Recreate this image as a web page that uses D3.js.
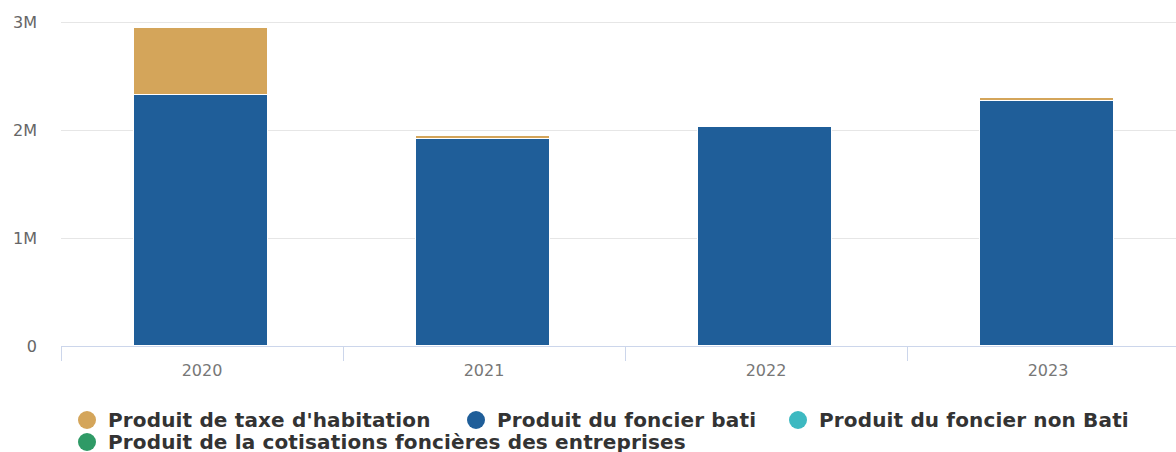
<!DOCTYPE html>
<html>
<head>
<meta charset="utf-8">
<script src="https://cdn.jsdelivr.net/npm/d3@7"></script>
<style>
  html, body { margin: 0; padding: 0; background: #fff; }
  svg { display: block; }
</style>
</head>
<body>
<svg id="chart" width="1176" height="452"></svg>
<script>
// Yearly tax product breakdown (euros)
const years = ["2020", "2021", "2022", "2023"];
const taxeHabitation = [620000, 25000, 0, 25000];
const foncierBati = [2320000, 1915000, 2030000, 2272000];
const foncierNonBati = [0, 0, 0, 0];
const cotisationsEntreprises = [0, 0, 0, 0];
const yTicks = [0, 1000000, 2000000, 3000000];
const yTickLabels = ["0", "1M", "2M", "3M"];

const seriesNames = [
  "Produit de taxe d'habitation",
  "Produit du foncier bati",
  "Produit du foncier non Bati",
  "Produit de la cotisations foncières des entreprises"
];
const seriesColors = ["#d4a55a", "#1f5e99", "#3db9c1", "#2f9a66"];
const seriesValues = [taxeHabitation, foncierBati, foncierNonBati, cotisationsEntreprises];

const svg = d3.select("#chart");
const plot = { left: 61, right: 1189, top: 22, bottom: 346 };

const x = d3.scaleBand()
  .domain(years)
  .range([plot.left, plot.right])
  .paddingInner(0.525)
  .paddingOuter(0.2625);

const y = d3.scaleLinear()
  .domain([0, 3000000])
  .range([plot.bottom, plot.top]);

// Grid lines
svg.append("g")
  .selectAll("line")
  .data(yTicks.slice(1))
  .join("line")
  .attr("x1", plot.left)
  .attr("x2", 1176)
  .attr("y1", d => Math.round(y(d)) + 0.5)
  .attr("y2", d => Math.round(y(d)) + 0.5)
  .attr("stroke", "#e6e6e6")
  .attr("stroke-width", 1);

// Y axis labels
svg.append("g")
  .selectAll("text")
  .data(yTicks)
  .join("text")
  .attr("x", 37)
  .attr("y", d => y(d) + 6)
  .attr("text-anchor", "end")
  .attr("fill", "#666")
  .attr("font-family", "DejaVu Sans, sans-serif")
  .attr("font-size", 16)
  .text((d, i) => yTickLabels[i]);

// Stacked bars: first series sits on top of the stack
const stackOrder = [3, 2, 1, 0];
const stacked = years.map((yr, i) => {
  let base = 0;
  const segs = [];
  stackOrder.forEach(s => {
    const v = seriesValues[s][i];
    segs.push({ year: yr, series: s, y0: base, y1: base + v });
    base += v;
  });
  return segs;
}).flat().filter(d => d.y1 > d.y0);

svg.append("g")
  .selectAll("rect")
  .data(stacked)
  .join("rect")
  .attr("x", d => Math.round(x(d.year)) - 1.5)
  .attr("width", Math.round(x.bandwidth()))
  .attr("y", d => Math.round(y(d.y1)) - 0.5)
  .attr("height", d => Math.max(1, Math.round(y(d.y0)) - Math.round(y(d.y1))))
  .attr("fill", d => seriesColors[d.series])
  .attr("stroke", "#fff")
  .attr("stroke-width", 1);

// X axis line and ticks
const xAxis = svg.append("g");
xAxis.append("line")
  .attr("x1", plot.left)
  .attr("x2", 1176)
  .attr("y1", plot.bottom + 0.5)
  .attr("y2", plot.bottom + 0.5)
  .attr("stroke", "#ccd6eb");
xAxis.selectAll("line.tick")
  .data(years)
  .join("line")
  .attr("class", "tick")
  .attr("x1", d => Math.round(x(d) - x.step() * x.paddingInner() / 2) + 0.5)
  .attr("x2", d => Math.round(x(d) - x.step() * x.paddingInner() / 2) + 0.5)
  .attr("y1", plot.bottom)
  .attr("y2", plot.bottom + 15)
  .attr("stroke", "#ccd6eb");
xAxis.selectAll("text")
  .data(years)
  .join("text")
  .attr("x", d => x(d) + x.bandwidth() / 2)
  .attr("y", 376)
  .attr("text-anchor", "middle")
  .attr("fill", "#777")
  .attr("font-family", "DejaVu Sans, sans-serif")
  .attr("font-size", 16)
  .text(d => d);

// Legend
const legendItems = [
  { s: 0, cx: 87, cy: 420 },
  { s: 1, cx: 476, cy: 420 },
  { s: 2, cx: 798, cy: 420 },
  { s: 3, cx: 87, cy: 442 }
];
const legend = svg.append("g");
legend.selectAll("circle")
  .data(legendItems)
  .join("circle")
  .attr("cx", d => d.cx)
  .attr("cy", d => d.cy)
  .attr("r", 9)
  .attr("fill", d => seriesColors[d.s]);
legend.selectAll("text")
  .data(legendItems)
  .join("text")
  .attr("x", d => d.cx + 21)
  .attr("y", d => d.cy + 7)
  .attr("fill", "#333")
  .attr("font-family", "DejaVu Sans, sans-serif")
  .attr("font-weight", "bold")
  .attr("font-size", 20)
  .attr("letter-spacing", 0.15)
  .text(d => seriesNames[d.s]);
</script>
</body>
</html>
